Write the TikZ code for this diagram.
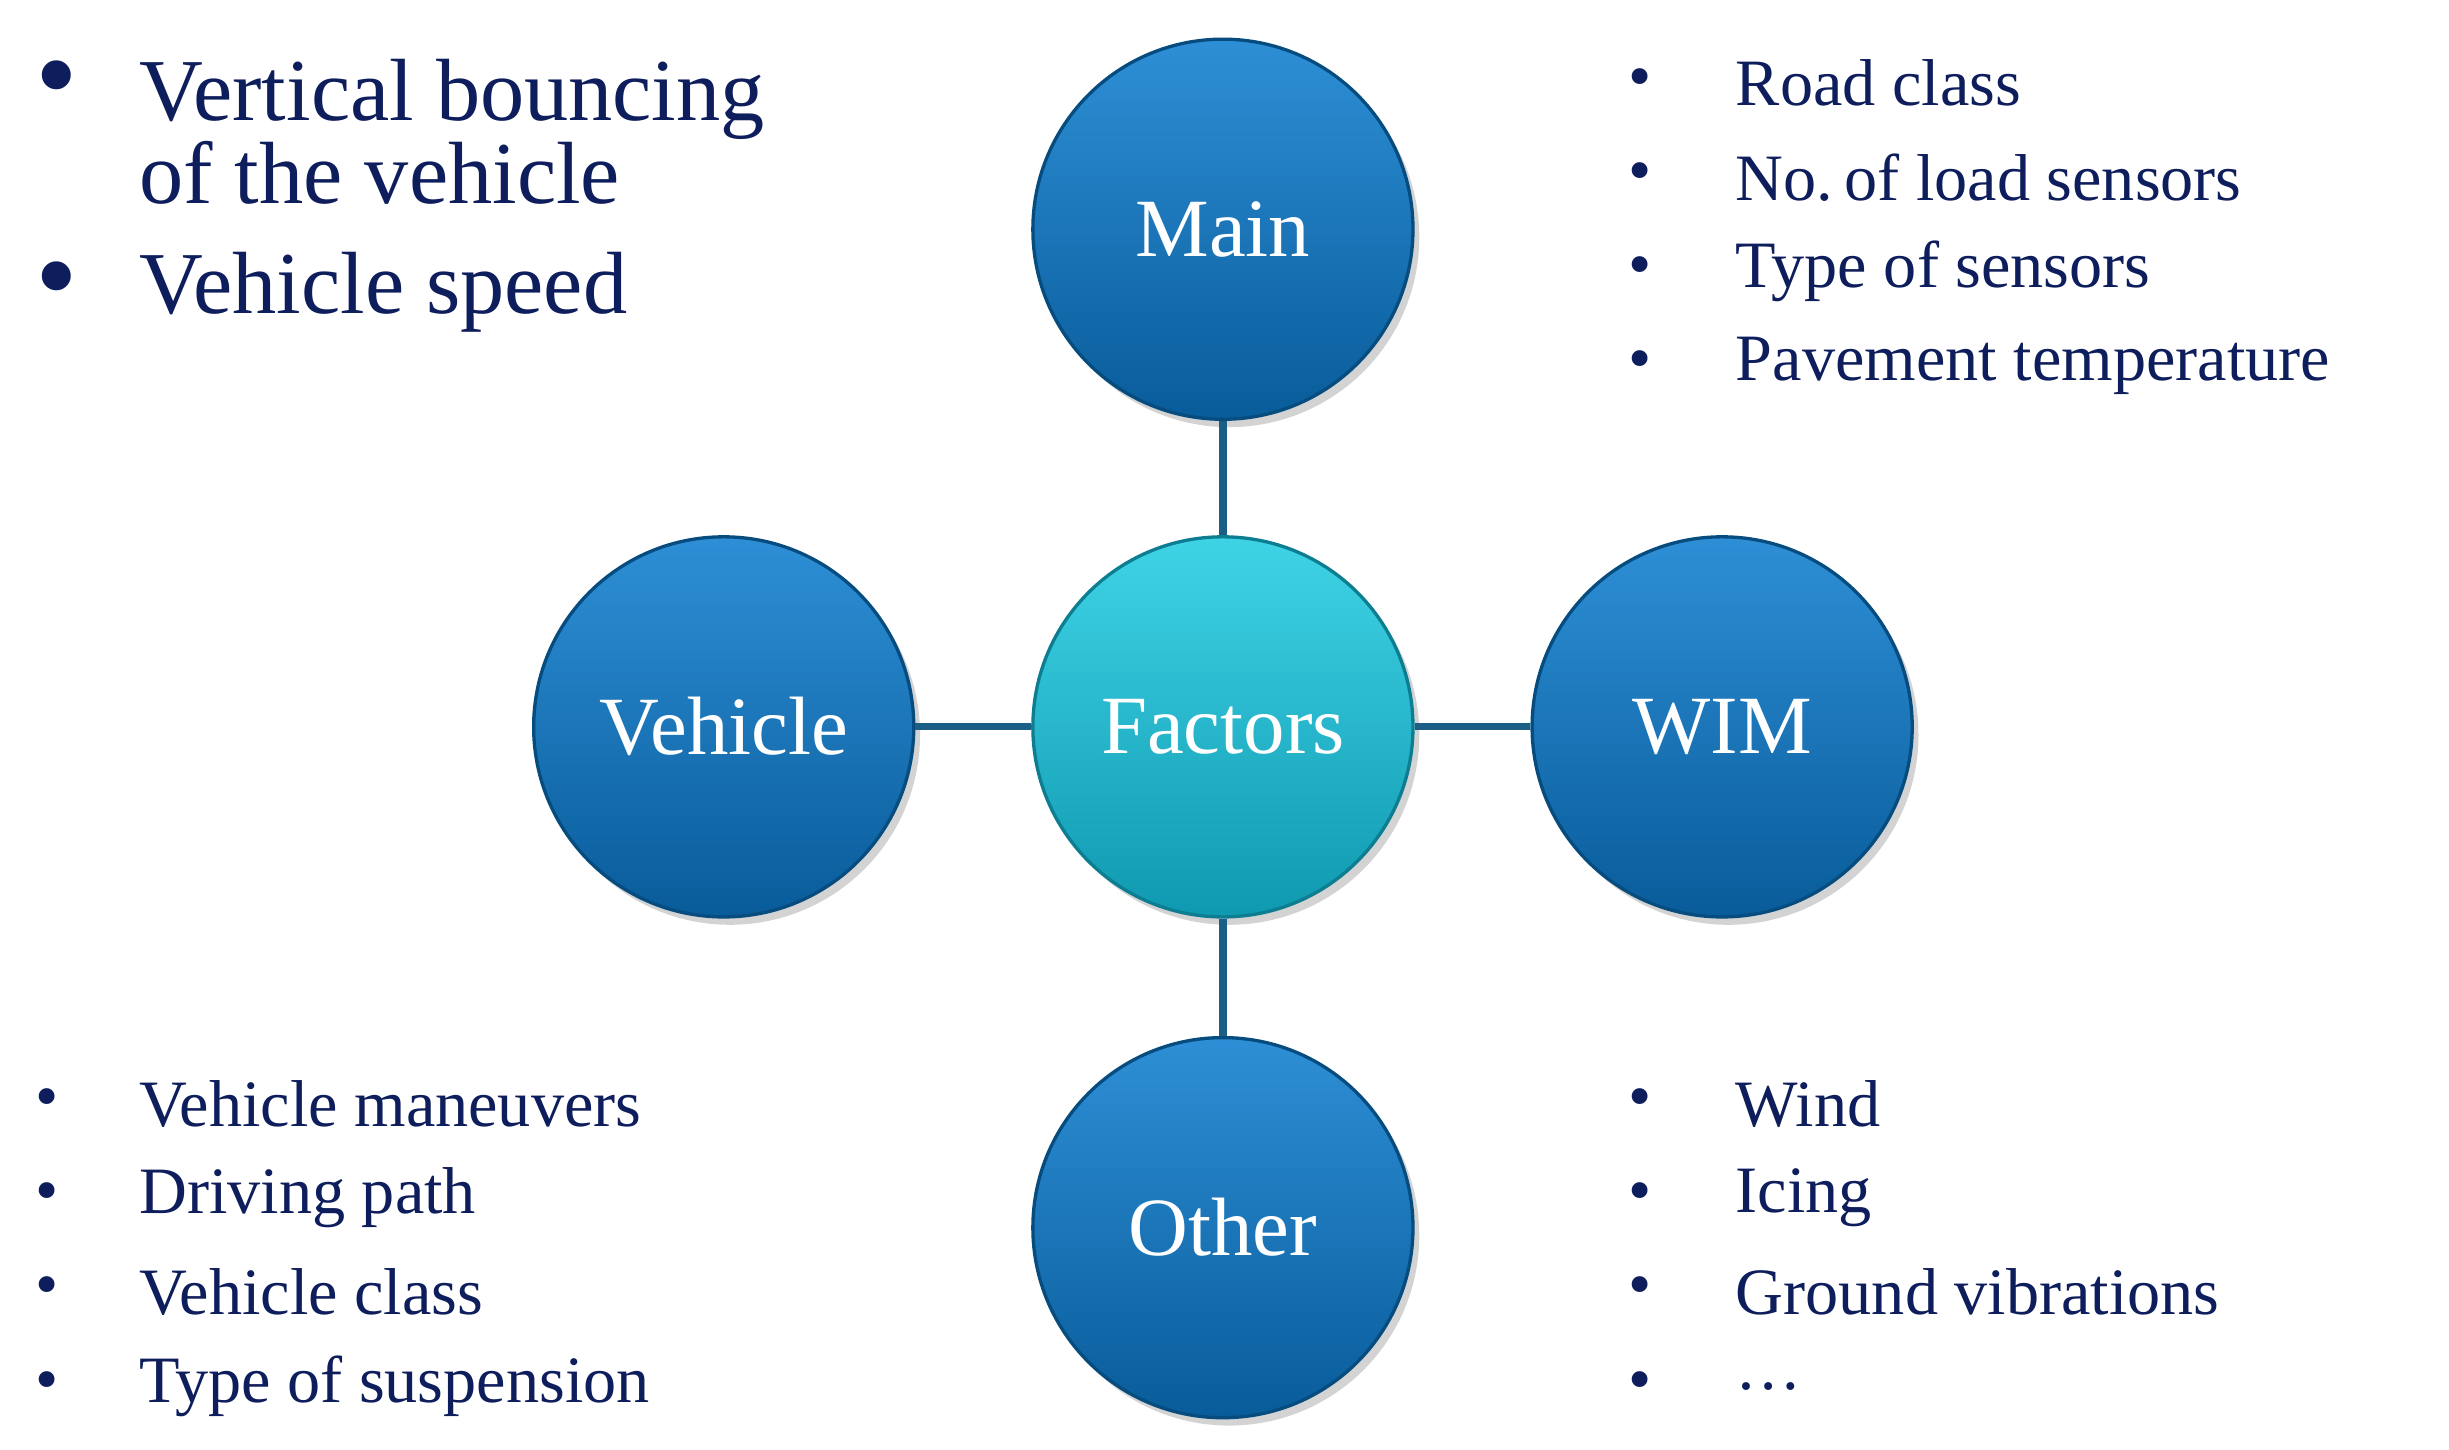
\documentclass[tikz,border=0pt]{standalone}
\usepackage{fontspec}
\setmainfont{Liberation Serif}
\usetikzlibrary{shadows}
\definecolor{ball}{HTML}{0A6CB5}
\definecolor{balltop}{HTML}{2E8FD6}
\definecolor{fac}{HTML}{12B4CF}
\definecolor{factop}{HTML}{3FD3E6}
\definecolor{txt}{HTML}{0E1D5C}
\definecolor{link}{HTML}{1C5F86}
\tikzset{
 ball/.style={circle,minimum size=2.42cm,inner sep=0pt,top color=balltop,bottom color=ball!85!black,draw=ball!70!black,line width=0.6pt,text=white,font=\fontsize{15}{18}\selectfont,drop shadow={opacity=0.35,shadow xshift=0.04cm,shadow yshift=-0.05cm}},
 fball/.style={ball,top color=factop,bottom color=fac!85!black,draw=fac!70!black},
 link/.style={draw=link,line width=1.3pt},
 bul/.style={anchor=center,text=txt,font=\fontsize{12}{14}\selectfont,inner sep=0pt},
 item/.style={anchor=west,text=txt,font=\fontsize{12}{14}\selectfont,inner sep=0pt},
 bigitem/.style={anchor=west,text=txt,font=\fontsize{16}{17}\selectfont,inner sep=0pt,align=left},
}
\begin{document}
\begin{tikzpicture}[x=0.01cm,y=-0.01cm]
\useasboundingbox (0,0) rectangle (1560,923);
\node[fball] (fac) at (779,463) {Factors};
\node[ball] (main) at (779,146) {Main};
\node[ball] (veh) at (461,463) {Vehicle};
\node[ball] (wim) at (1097,463) {WIM};
\node[ball] (oth) at (779,782) {Other};
\draw[link] (fac) -- (main);
\draw[link] (fac) -- (veh);
\draw[link] (fac) -- (wim);
\draw[link] (fac) -- (oth);
% top left
\node[bigitem,font=\fontsize{22}{22}\selectfont] (b1) at (22,56) {•};
\node[bigitem] (t1) at (88,84) {Vertical bouncing\\[-2pt]of the vehicle};
\node[bigitem,font=\fontsize{22}{22}\selectfont] (b2) at (22,184) {•};
\node[bigitem] (t2) at (88,186) {Vehicle speed};
% top right
\node[bul] (r1) at (1045,53) {•};\node[item] (rt1) at (1105,53) {Road class};
\node[bul] (r2) at (1045,113) {•};\node[item] (rt2) at (1105,113) {No.\,of load sensors};
\node[bul] (r3) at (1045,173) {•};\node[item] (rt3) at (1105,173) {Type of sensors};
\node[bul] (r4) at (1045,233) {•};\node[item] (rt4) at (1105,233) {Pavement temperature};
% bottom left
\node[bul] (l1) at (30,703) {•};\node[item] (lt1) at (88,703) {Vehicle maneuvers};
\node[bul] (l2) at (30,763) {•};\node[item] (lt2) at (88,763) {Driving path};
\node[bul] (l3) at (30,823) {•};\node[item] (lt3) at (88,823) {Vehicle class};
\node[bul] (l4) at (30,883) {•};\node[item] (lt4) at (88,883) {Type of suspension};
% bottom right
\node[bul] (q1) at (1045,703) {•};\node[item] (qt1) at (1105,703) {Wind};
\node[bul] (q2) at (1045,763) {•};\node[item] (qt2) at (1105,763) {Icing};
\node[bul] (q3) at (1045,823) {•};\node[item] (qt3) at (1105,823) {Ground vibrations};
\node[bul] (q4) at (1045,883) {•};\node[item] (qt4) at (1105,883) {…};
\end{tikzpicture}
\end{document}
